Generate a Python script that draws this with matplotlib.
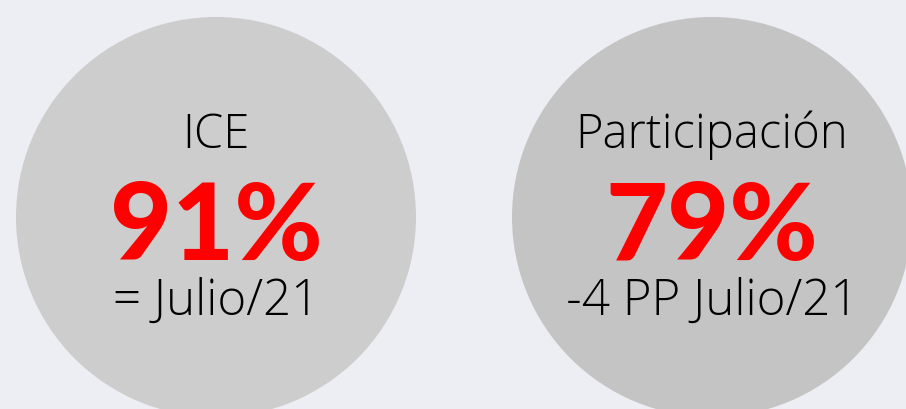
import matplotlib.pyplot as plt
from matplotlib.patches import Circle

# KPI data
labels = ["ICE", "Participación"]
values = [91, 79]
notes = ["= Julio/21", "-4 PP Julio/21"]
circle_colors = ["#cdcdcd", "#c4c4c4"]

fig = plt.figure(figsize=(9.06, 4.09), dpi=100)
fig.patch.set_facecolor("#eceef3")
ax = fig.add_axes([0, 0, 1, 1])
ax.set_xlim(0, 906)
ax.set_ylim(409, 0)
ax.set_aspect("equal")
ax.axis("off")

for i, (lab, val, note) in enumerate(zip(labels, values, notes)):
    cx = 216 + i * 496
    cy = 217
    ax.add_patch(Circle((cx, cy), 200, color=circle_colors[i], lw=0))
    ax.text(cx, 148, lab, ha="center", va="baseline", fontsize=34,
            family="Open Sans", weight="light", color="black")
    ax.text(cx, 260, f"{val}%", ha="center", va="baseline", fontsize=77,
            family="Lato", weight="black", color="#ff0000")
    ax.text(cx, 315, note, ha="center", va="baseline", fontsize=35.5,
            family="Open Sans", weight="light", color="black")

fig.savefig("out.png", dpi=100, facecolor=fig.get_facecolor())
